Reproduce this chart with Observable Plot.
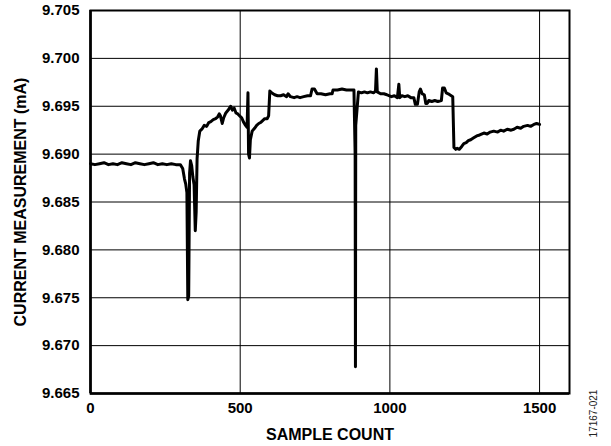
<!DOCTYPE html>
<html>
<head>
<meta charset="utf-8">
<script src="https://cdn.jsdelivr.net/npm/d3@7"></script>
<script src="https://cdn.jsdelivr.net/npm/@observablehq/plot@0.6"></script>
<style>
  html, body { margin: 0; padding: 0; background: #fff; }
</style>
</head>
<body>
<div id="chart"></div>
<script>
// Measured current (mA) versus sample index
const samples = [
  0, 15, 30, 45, 60, 75, 90, 105, 120, 135, 150, 165, 180, 195, 210, 225, 240, 255, 270, 285,
  300, 308, 314, 318, 322, 325, 328, 331, 334, 338, 342, 346, 350, 353, 356, 360, 365, 372, 380, 388,
  395, 402, 410, 418, 425, 430, 434, 440, 445, 452, 460, 468, 474, 480, 486, 492, 498, 505, 512, 518,
  523, 526, 528, 531, 534, 540, 548, 555, 562, 568, 575, 582, 590, 595, 599, 605, 615, 625, 635, 645,
  655, 660, 668, 680, 690, 700, 712, 725, 735, 740, 748, 757, 770, 785, 800, 807, 810, 825, 840, 855,
  870, 880, 884, 885, 886, 895, 905, 915, 925, 935, 946, 952, 955, 958, 969, 980, 990, 997, 1005, 1015,
  1025, 1030, 1033, 1040, 1050, 1060, 1070, 1080, 1085, 1092, 1098, 1102, 1108, 1115, 1120, 1125, 1130, 1140, 1150, 1160,
  1172, 1176, 1182, 1188, 1195, 1205, 1210, 1214, 1220, 1225, 1232, 1240, 1247, 1255, 1262, 1270, 1280, 1290, 1300, 1314,
  1325, 1335, 1347, 1360, 1370, 1380, 1392, 1405, 1414, 1425, 1437, 1447, 1460, 1470, 1481, 1490, 1500
];
const current = [
  9.6890, 9.6889, 9.6890, 9.6891, 9.6889, 9.6890, 9.6889, 9.6891, 9.6890, 9.6889, 9.6891, 9.6890, 9.6889, 9.6890, 9.6891, 9.6889, 9.6890, 9.6889, 9.6890, 9.6889,
  9.6889, 9.6885, 9.6874, 9.6869, 9.6860, 9.6748, 9.6752, 9.6880, 9.6893, 9.6888, 9.6876, 9.6868, 9.6820, 9.6840, 9.6895, 9.6914, 9.6924, 9.6926, 9.6930, 9.6929,
  9.6933, 9.6934, 9.6936, 9.6937, 9.6939, 9.6942, 9.6940, 9.6932, 9.6938, 9.6943, 9.6946, 9.6950, 9.6946, 9.6948, 9.6943, 9.6942, 9.6940, 9.6938, 9.6933, 9.6930,
  9.6928, 9.6964, 9.6900, 9.6896, 9.6915, 9.6924, 9.6927, 9.6930, 9.6932, 9.6933, 9.6935, 9.6937, 9.6937, 9.6940, 9.6966, 9.6964, 9.6962, 9.6961, 9.6961, 9.6962,
  9.6960, 9.6963, 9.6960, 9.6959, 9.6960, 9.6959, 9.6960, 9.6961, 9.6961, 9.6968, 9.6968, 9.6963, 9.6963, 9.6962, 9.6963, 9.6963, 9.6967, 9.6967, 9.6968, 9.6967,
  9.6967, 9.6967, 9.6900, 9.6678, 9.6930, 9.6965, 9.6964, 9.6965, 9.6964, 9.6965, 9.6964, 9.6966, 9.6989, 9.6965, 9.6963, 9.6963, 9.6962, 9.6961, 9.6960, 9.6961,
  9.6959, 9.6973, 9.6959, 9.6961, 9.6960, 9.6961, 9.6959, 9.6959, 9.6952, 9.6952, 9.6965, 9.6968, 9.6963, 9.6962, 9.6953, 9.6953, 9.6956, 9.6955, 9.6956, 9.6955,
  9.6956, 9.6969, 9.6969, 9.6964, 9.6963, 9.6961, 9.6960, 9.6907, 9.6905, 9.6906, 9.6905, 9.6908, 9.6911, 9.6912, 9.6914, 9.6915, 9.6917, 9.6919, 9.6920, 9.6922,
  9.6921, 9.6923, 9.6924, 9.6923, 9.6925, 9.6924, 9.6926, 9.6925, 9.6926, 9.6928, 9.6927, 9.6929, 9.6930, 9.6929, 9.6931, 9.6932, 9.6931
];

const xTicks = [0, 500, 1000, 1500];
const yTicks = [9.665, 9.670, 9.675, 9.680, 9.685, 9.690, 9.695, 9.700, 9.705];
const xTitle = "SAMPLE COUNT";
const yTitle = "CURRENT MEASUREMENT (mA)";
const figureId = "17167-021";

const data = samples.map((s, i) => ({sample: s, current: current[i]}));

const chart = Plot.plot({
  width: 611,
  height: 446,
  marginLeft: 90,
  marginRight: 42,
  marginTop: 10,
  marginBottom: 53,
  style: {
    fontFamily: "Arial, 'Liberation Sans', Helvetica, sans-serif",
    fontSize: "15px",
    fontWeight: "bold",
    color: "#000",
    background: "#fff",
    overflow: "visible"
  },
  x: {domain: [0, 1600]},
  y: {domain: [9.665, 9.705]},
  marks: [
    Plot.gridX(xTicks, {stroke: "#000", strokeOpacity: 1, strokeWidth: 1}),
    Plot.gridY(yTicks, {stroke: "#000", strokeOpacity: 1, strokeWidth: 1}),
    Plot.line(data, {
      x: "sample",
      y: "current",
      stroke: "#000",
      strokeWidth: 3,
      strokeLinejoin: "round",
      strokeLinecap: "round"
    }),
    Plot.frame({stroke: "#000", strokeWidth: 2}),
    Plot.ruleX([0], {stroke: "#000", strokeWidth: 2.6}),
    Plot.ruleY([9.665], {stroke: "#000", strokeWidth: 2.6}),
    Plot.axisX(xTicks, {
      tickSize: 0,
      tickPadding: 9,
      tickFormat: d => String(d),
      label: xTitle,
      labelAnchor: "center",
      labelArrow: "none",
      labelOffset: 46,
      fontSize: 15
    }),
    Plot.axisY(yTicks, {
      tickSize: 0,
      tickPadding: 11,
      tickFormat: d3.format(".3f"),
      label: yTitle,
      labelAnchor: "center",
      labelArrow: "none",
      labelOffset: 76,
      fontSize: 15
    }),
    Plot.text([figureId], {
      frameAnchor: "bottom-right",
      text: d => d,
      rotate: -90,
      textAnchor: "middle",
      lineAnchor: "middle",
      dx: 24,
      dy: 20,
      fontSize: 10,
      fontWeight: "normal",
      fill: "#222"
    })
  ]
});

// Axis titles are slightly larger than the tick labels
d3.select(chart).selectAll("g[aria-label='x-axis label'] text, g[aria-label='y-axis label'] text")
  .attr("font-size", 16);

document.getElementById("chart").appendChild(chart);
</script>
</body>
</html>
